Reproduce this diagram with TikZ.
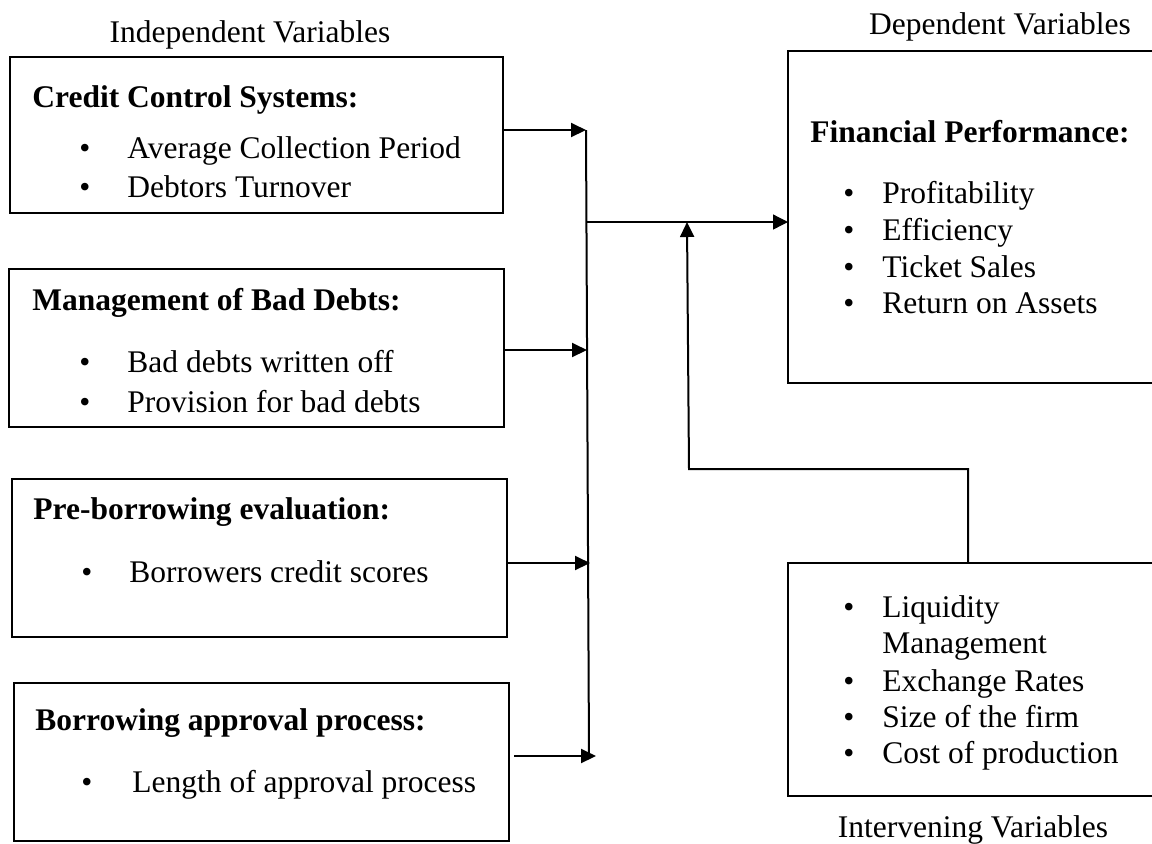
\documentclass[tikz,border=0pt]{standalone}
\usepackage{fontspec}
\setmainfont{Liberation Serif}
\usetikzlibrary{arrows.meta}

\tikzset{
  varbox/.style={draw=black, line width=1pt, inner sep=0pt, outer sep=0pt, rectangle},
  lbl/.style={inner sep=0pt, anchor=base west, font=\fontsize{15.75}{18}\selectfont},
  hdr/.style={lbl, font=\fontsize{15.75}{18}\selectfont\bfseries},
  grouplabel/.style={inner sep=0pt, anchor=base, font=\fontsize{15.75}{18}\selectfont},
  bul/.style={inner sep=0pt, anchor=base, font=\fontsize{15.75}{18}\selectfont},
  link/.style={line width=1pt, -{Triangle[length=7.5pt,width=7pt]}},
  thinlink/.style={line width=0.65pt, -{Triangle[length=7.5pt,width=7.5pt]}},
  busline/.style={line width=1pt},
}

\begin{document}
\begin{tikzpicture}[x=0.5pt, y=-0.5pt]
  \fill[white] (0,0) rectangle (1152,843);
  \clip (0,0) rectangle (1152,843);

  % group captions
  \node[grouplabel] (capI) at (250,42) {Independent Variables};
  \node[grouplabel] (capD) at (1000,34) {Dependent Variables};
  \node[grouplabel] (capV) at (973,837) {Intervening Variables};

  % independent variable boxes
  \node[varbox, minimum width=246.5pt, minimum height=78pt] (b1) at (256.5,135) {};
  \node[varbox, minimum width=247.5pt, minimum height=79pt] (b2) at (256.5,348) {};
  \node[varbox, minimum width=247.5pt, minimum height=79pt] (b3) at (259.5,558) {};
  \node[varbox, minimum width=247.5pt, minimum height=79pt] (b4) at (261.5,762) {};

  % dependent and intervening boxes
  \node[varbox, minimum width=188.5pt, minimum height=166pt] (fin) at (976.5,217) {};
  \node[varbox, minimum width=188.5pt, minimum height=116.5pt] (iv) at (976.5,679.5) {};

  % box 1 text
  \node[hdr] (h1) at (32,107) {Credit Control Systems:};
  \node[bul] (p1a) at (85,158) {•};
  \node[lbl] (t1a) at (127,158) {Average Collection Period};
  \node[bul] (p1b) at (85,197) {•};
  \node[lbl] (t1b) at (127,197) {Debtors Turnover};

  % box 2 text
  \node[hdr] (h2) at (32,310) {Management of Bad Debts:};
  \node[bul] (p2a) at (85,372) {•};
  \node[lbl] (t2a) at (127,372) {Bad debts written off};
  \node[bul] (p2b) at (85,412) {•};
  \node[lbl] (t2b) at (127,412) {Provision for bad debts};

  % box 3 text
  \node[hdr] (h3) at (33,519) {Pre-borrowing evaluation:};
  \node[bul] (p3a) at (87,582) {•};
  \node[lbl] (t3a) at (129,582) {Borrowers credit scores};

  % box 4 text
  \node[hdr] (h4) at (35,730) {Borrowing approval process:};
  \node[bul] (p4a) at (87,792) {•};
  \node[lbl] (t4a) at (132,792) {Length of approval process};

  % financial performance text
  \node[hdr] (hf) at (810,142) {Financial Performance:};
  \node[bul] (pf1) at (849,203) {•};
  \node[lbl] (tf1) at (882,203) {Profitability};
  \node[bul] (pf2) at (849,240) {•};
  \node[lbl] (tf2) at (882,240) {Efficiency};
  \node[bul] (pf3) at (849,277) {•};
  \node[lbl] (tf3) at (882,277) {Ticket Sales};
  \node[bul] (pf4) at (849,313) {•};
  \node[lbl] (tf4) at (882,313) {Return on Assets};

  % intervening variables text
  \node[bul] (pv1) at (849,617) {•};
  \node[lbl] (tv1) at (882,617) {Liquidity};
  \node[lbl] (tv1b) at (882,653) {Management};
  \node[bul] (pv2) at (849,691) {•};
  \node[lbl] (tv2) at (882,691) {Exchange Rates};
  \node[bul] (pv3) at (849,727) {•};
  \node[lbl] (tv3) at (882,727) {Size of the firm};
  \node[bul] (pv4) at (849,763) {•};
  \node[lbl] (tv4) at (882,763) {Cost of production};

  % collecting bus
  \coordinate (busT) at (586,130);
  \coordinate (busJ) at (586.4,222);
  \coordinate (bus2) at (587,350);
  \coordinate (bus3) at (588.5,563);
  \coordinate (busB) at (589,756);
  \coordinate (tip4) at (596,756);
  \coordinate (tip3) at (590,563);

  % feedback from intervening variables
  \coordinate (elbowR) at (968,469);
  \coordinate (elbowL) at (689,469);
  \coordinate (merge) at (687,222);

  \draw[busline] (busT) -- (busB);
  \draw[link] (b1.east |- busT) -- (busT);
  \draw[link] (b2.east |- bus2) -- (bus2);
  \draw[link] (b3.east |- bus3) -- (tip3);
  \draw[link] ([xshift=2.5pt]b4.east |- busB) -- (tip4);
  \draw[thinlink] (busJ) -- (fin.west |- busJ);
  \draw[link] (iv.north -| elbowR) -- (elbowR) -- (elbowL) -- (merge);
\end{tikzpicture}
\end{document}
